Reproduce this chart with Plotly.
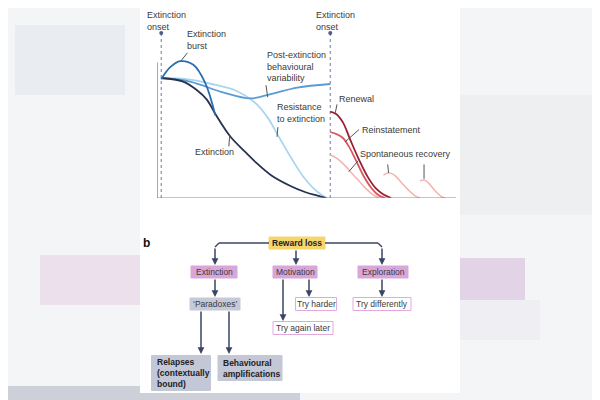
import plotly.graph_objects as go

# ---- panel a data (time in days, responses normalised to pre-extinction level) ----
ext_t = [0, 2.6, 4.2, 5.4, 6.4, 8.2, 10, 11.3, 13, 15.3, 17, 18.5, 19.5]
ext_r = [1.0, 0.97, 0.9, 0.82, 0.7, 0.51, 0.38, 0.29, 0.19, 0.1, 0.05, 0.02, 0.0]

res_t = [0, 3, 6, 9, 11, 12.5, 14, 15.5, 17, 18.5, 19.6]
res_r = [1.0, 0.99, 0.95, 0.89, 0.8, 0.68, 0.5, 0.32, 0.16, 0.05, 0.0]

var_t = [0, 3.4, 7.3, 10.5, 13.2, 16.1, 20]
var_r = [1.0, 0.97, 0.88, 0.83, 0.87, 0.92, 0.95]

burst_t = [0, 1.07, 2.25, 3.8, 5.2, 6.4]
burst_r = [0.99, 1.09, 1.14, 1.11, 0.96, 0.69]

renew_t = [20, 20.7, 21.5, 22.4, 23.4, 24.4, 25.4, 26.3, 27.2]
renew_r = [0.72, 0.70, 0.63, 0.48, 0.32, 0.18, 0.08, 0.03, 0.0]

reinst_t = [20, 20.8, 21.5, 22.2, 23, 23.9, 24.8, 25.6, 26.5]
reinst_r = [0.55, 0.53, 0.5, 0.43, 0.32, 0.19, 0.09, 0.03, 0.0]

spont1_t = [20, 20.8, 21.6, 22.5, 23.3, 24.2, 25, 25.8]
spont1_r = [0.36, 0.33, 0.28, 0.21, 0.15, 0.08, 0.03, 0.0]
spont2_t = [26.3, 26.9, 27.6, 28.4, 29.2, 30, 30.6]
spont2_r = [0.19, 0.21, 0.19, 0.13, 0.07, 0.02, 0.0]
spont3_t = [30.6, 31.1, 31.7, 32.4, 33.2, 33.6]
spont3_r = [0.14, 0.15, 0.12, 0.06, 0.01, 0.0]

onsets = [0, 20]

# ---- panel b nodes ----
nodes = ["Reward loss", "Extinction", "Motivation", "Exploration", "‘Paradoxes’",
         "Try harder", "Try again later", "Try differently",
         "Relapses<br>(contextually<br>bound)", "Behavioural<br>amplifications"]

FONT = "Liberation Sans"
TXT = "#3a3a3a"
OFF = 8  # page margin of the html body, figure origin sits at (8, 8) on screen

fig = go.Figure()


def curve(t, r, color, width=1.8):
    fig.add_trace(go.Scatter(x=t, y=r, mode="lines", line=dict(color=color, width=width, shape="spline", smoothing=1.0),
                             hoverinfo="skip", showlegend=False))


curve(res_t, res_r, "#a9d6f0")
curve(var_t, var_r, "#5a9bd4")
curve(ext_t, ext_r, "#26324f")
curve(burst_t, burst_r, "#2c6db0")
curve(spont1_t, spont1_r, "#f3b3b3", 1.5)
curve(spont2_t, spont2_r, "#f3b3b3", 1.5)
curve(spont3_t, spont3_r, "#f3b3b3", 1.5)
curve(reinst_t, reinst_r, "#d6585c")
curve(renew_t, renew_r, "#9a1f33")

# onset markers
fig.add_trace(go.Scatter(x=onsets, y=[1.375] * 2, mode="markers", marker=dict(color="#4a5a8a", size=4),
                         hoverinfo="skip", showlegend=False))

shapes = []


def px(x):
    return (x - OFF) / 600


def py(y):
    return 1 - (y - OFF) / 400


def bg(x0, x1, y0, y1, color):
    shapes.append(dict(type="rect", xref="paper", yref="paper", x0=px(x0), x1=px(x1), y0=py(y0), y1=py(y1),
                       fillcolor=color, line_width=0, layer="below"))


# blurred photo background
bg(15, 125, 25, 95, "#e9edf2")
bg(40, 140, 255, 305, "#ece0ec")
bg(460, 525, 258, 300, "#e2d4e6")
bg(460, 620, 95, 215, "#eeeff1")
bg(460, 540, 300, 340, "#eeeef3")
bg(0, 300, 386, 420, "#cdd0d8")
bg(140, 460, 0, 393, "white")

# onset dashed lines and axes (data coords)
for o in onsets:
    shapes.append(dict(type="line", x0=o, x1=o, y0=0, y1=1.375, line=dict(color="#6c7ba3", width=1, dash="dot"), layer="below"))
shapes.append(dict(type="line", x0=-0.5, x1=-0.5, y0=0, y1=1.13, line=dict(color="#555", width=1)))
shapes.append(dict(type="line", x0=-0.5, x1=34.9, y0=0, y1=0, line=dict(color="#8a8a8a", width=1.2)))

# leader lines (data coords)
leaders = [
    (3.1, 1.21, 2.3, 1.14),
    (12.4, 0.94, 12.6, 0.84),
    (13.8, 0.59, 13.7, 0.51),
    (8.0, 0.43, 8.1, 0.52),
    (20.8, 0.78, 20.6, 0.71),
    (23.4, 0.57, 21.8, 0.47),
    (23.3, 0.31, 22.2, 0.22),
    (26.8, 0.28, 26.9, 0.21),
    (31.1, 0.28, 31.1, 0.16),
]
for x0, y0, x1, y1 in leaders:
    shapes.append(dict(type="line", x0=x0, x1=x1, y0=y0, y1=y1, line=dict(color="#555", width=1)))

ann = []


def label(x, y, text, xanchor="left", yanchor="middle", **kw):
    ann.append(dict(x=x, y=y, text=text, showarrow=False, xanchor=xanchor, yanchor=yanchor, align="left",
                    font=dict(family=FONT, size=9, color=TXT), **kw))


for ox in [145, 314]:
    ann.append(dict(xref="x2", yref="y2", x=ox, y=8, text="Extinction<br>onset", showarrow=False,
                    xanchor="left", yanchor="top", align="left", font=dict(family=FONT, size=9, color=TXT)))
label(2.8, 1.21, "Extinction<br>burst", yanchor="bottom")
label(12.3, 0.94, "Post-extinction<br>behavioural<br>variability", yanchor="bottom")
label(13.5, 0.6, "Resistance<br>to extinction", yanchor="bottom")
label(3.8, 0.38, "Extinction")
label(20.8, 0.77, "Renewal", yanchor="bottom")
label(23.5, 0.57, "Reinstatement")
label(23.3, 0.31, "Spontaneous recovery", yanchor="bottom")
label(19.5, -0.03, "Time (days)", xanchor="center", yanchor="top")
label(-1.4, 0.58, "Responses", xanchor="center", textangle=-90)

# ---- panel b (screen-pixel layout coordinates on a hidden axis) ----
# box: (center x, center y, width, height, fill, border, bold)
boxes = [
    (297, 243, 56, 12, "#f6d56e", "#f6d56e", True),
    (214, 272, 46, 12, "#d9a6da", "#d9a6da", False),
    (295, 272, 44, 12, "#d9a6da", "#d9a6da", False),
    (383, 272, 50, 12, "#d9a6da", "#d9a6da", False),
    (215, 304, 50, 12, "#c6cad8", "#c6cad8", False),
    (316, 304, 41, 13, "white", "#e2a9df", False),
    (303, 328, 60, 13, "white", "#e2a9df", False),
    (382, 304, 58, 13, "white", "#e2a9df", False),
    (181, 373, 59, 35, "#c3c7d6", "#c3c7d6", True),
    (250, 368, 64, 25, "#c3c7d6", "#c3c7d6", True),
]
for (cx, cy, w, h, fill, border, bold), name in zip(boxes, nodes):
    shapes.append(dict(type="rect", xref="x2", yref="y2", x0=cx - w / 2, x1=cx + w / 2, y0=cy - h / 2, y1=cy + h / 2,
                       fillcolor=fill, line=dict(color=border, width=1)))
    multi = "<br>" in name
    ann.append(dict(xref="x2", yref="y2", x=cx - w / 2 + 3 if multi else cx, y=cy,
                    xanchor="left" if multi else "center", yanchor="middle", align="left",
                    text="<b>%s</b>" % name if bold else name, showarrow=False,
                    font=dict(family=FONT, size=8.5, color="#222" if bold else TXT)))

ARROW = "#3b4663"
# connectors: polyline points, last segment gets an arrow head
paths = [
    [(269, 243), (219, 243), (215, 247), (215, 265)],
    [(325, 243), (378, 243), (382, 247), (382, 265)],
    [(296, 249), (296, 265)],
    [(215, 278), (215, 297)],
    [(283, 278), (283, 321)],
    [(309, 278), (309, 297)],
    [(382, 278), (382, 297)],
    [(201, 310), (201, 354)],
    [(229, 310), (229, 354)],
]
for pts in paths:
    for (xa, ya), (xb, yb) in zip(pts[:-2], pts[1:-1]):
        shapes.append(dict(type="line", xref="x2", yref="y2", x0=xa, y0=ya, x1=xb, y1=yb, line=dict(color=ARROW, width=1.5)))
    (xa, ya), (xb, yb) = pts[-2], pts[-1]
    ann.append(dict(xref="x2", yref="y2", axref="x2", ayref="y2", x=xb, y=yb, ax=xa, ay=ya, text="",
                    showarrow=True, arrowhead=2, arrowsize=0.9, arrowwidth=1.5, arrowcolor=ARROW))

ann.append(dict(xref="x2", yref="y2", x=141, y=243, text="<b>b</b>", showarrow=False, xanchor="left",
                font=dict(family=FONT, size=12, color="#111")))

fig.update_layout(
    width=600, height=400, margin=dict(l=0, r=0, t=0, b=0),
    paper_bgcolor="#f4f5f7", plot_bgcolor="rgba(0,0,0,0)",
    shapes=shapes, annotations=ann,
    xaxis=dict(range=[-0.5, 35], domain=[(157 - OFF) / 600, (457 - OFF) / 600], visible=False, fixedrange=True),
    yaxis=dict(range=[0, 1.55], domain=[1 - (198 - OFF) / 400, 1 - (12 - OFF) / 400], visible=False, fixedrange=True),
    xaxis2=dict(range=[OFF, 600 + OFF], domain=[0, 1], visible=False, anchor="y2"),
    yaxis2=dict(range=[400 + OFF, OFF], domain=[0, 1], visible=False, anchor="x2"),
)

fig.write_html("out.html")
